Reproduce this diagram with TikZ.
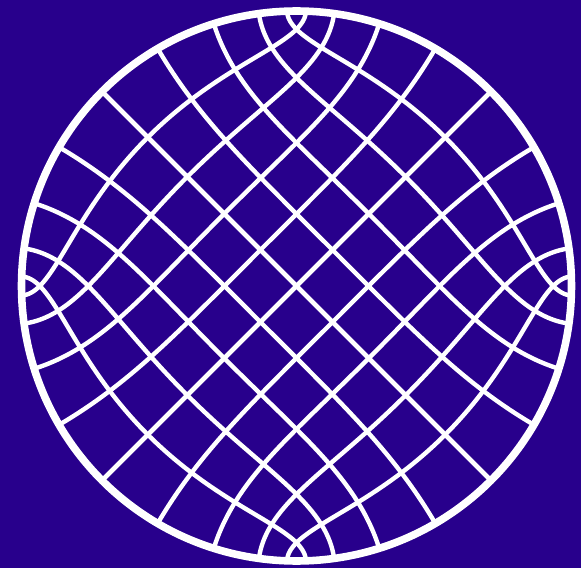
\documentclass[tikz,border=0pt]{standalone}
\definecolor{bgblue}{RGB}{40,0,140}
\def\lmP{1.3110287771461}
% one doubling step for the lemniscatic sine / cosine
\newcommand\lemdbl{%
  \edef\lmpa{(\fpeval{\lmsx*\lmcx-\lmsy*\lmcy})}%
  \edef\lmpb{(\fpeval{\lmsx*\lmcy+\lmsy*\lmcx})}%
  \edef\lmqa{(\fpeval{\lmpa*\lmpa-\lmpb*\lmpb})}%
  \edef\lmqb{(\fpeval{2*\lmpa*\lmpb})}%
  \edef\lmra{(\fpeval{\lmsx*\lmsx-\lmsy*\lmsy})}%
  \edef\lmrb{(\fpeval{2*\lmsx*\lmsy})}%
  \edef\lmta{(\fpeval{\lmcx*\lmcx-\lmcy*\lmcy})}%
  \edef\lmtb{(\fpeval{2*\lmcx*\lmcy})}%
  \edef\lmda{(\fpeval{1-\lmqa})}%
  \edef\lmdb{(\fpeval{-\lmqb})}%
  \edef\lmdn{(\fpeval{\lmda*\lmda+\lmdb*\lmdb})}%
  \edef\lmsx{(\fpeval{2*(\lmpa*\lmda+\lmpb*\lmdb)/\lmdn})}%
  \edef\lmsy{(\fpeval{2*(\lmpb*\lmda-\lmpa*\lmdb)/\lmdn})}%
  \edef\lmea{(\fpeval{1+\lmqa})}%
  \edef\lmen{(\fpeval{\lmea*\lmea+\lmqb*\lmqb})}%
  \edef\lmna{(\fpeval{\lmta-\lmra})}%
  \edef\lmnb{(\fpeval{\lmtb-\lmrb})}%
  \edef\lmcx{(\fpeval{(\lmna*\lmea+\lmnb*\lmqb)/\lmen})}%
  \edef\lmcy{(\fpeval{(\lmnb*\lmea-\lmna*\lmqb)/\lmen})}%
}
% sl(w) for w = #1 + i #2  -> \lmsx, \lmsy
\newcommand\slmap[2]{%
  \edef\lmux{(\fpeval{(#1)/8})}%
  \edef\lmuy{(\fpeval{(#2)/8})}%
  \edef\lmpa{(\fpeval{\lmux*\lmux-\lmuy*\lmuy})}%
  \edef\lmpb{(\fpeval{2*\lmux*\lmuy})}%
  \edef\lmqa{(\fpeval{\lmpa*\lmpa-\lmpb*\lmpb})}%
  \edef\lmqb{(\fpeval{2*\lmpa*\lmpb})}%
  \edef\lmsx{(\fpeval{\lmux-(\lmqa*\lmux-\lmqb*\lmuy)/10})}%
  \edef\lmsy{(\fpeval{\lmuy-(\lmqa*\lmuy+\lmqb*\lmux)/10})}%
  \edef\lmxa{(\fpeval{\lmsx*\lmsx-\lmsy*\lmsy})}%
  \edef\lmxb{(\fpeval{2*\lmsx*\lmsy})}%
  \edef\lmya{(\fpeval{\lmxa*\lmxa-\lmxb*\lmxb})}%
  \edef\lmyb{(\fpeval{2*\lmxa*\lmxb})}%
  \edef\lmza{(\fpeval{\lmya*\lmxa-\lmyb*\lmxb})}%
  \edef\lmzb{(\fpeval{\lmya*\lmxb+\lmyb*\lmxa})}%
  \edef\lmcx{(\fpeval{1-\lmxa+\lmya/2-\lmza/2})}%
  \edef\lmcy{(\fpeval{-\lmxb+\lmyb/2-\lmzb/2})}%
  \lemdbl\lemdbl\lemdbl
}
\begin{document}
\begin{tikzpicture}[x=1cm,y=1cm,
  gridcurve/.style={draw=white,line width=2.5pt,line cap=round,line join=round},
  rim/.style={draw=white,line width=4.3pt}]
\fill[bgblue] (0,0) rectangle (11.62,11.36);
\begin{scope}[shift={(5.93,5.64)},scale=5.5]
\foreach \k in {0,...,4}{%
  \gdef\ptlist{}%
  \foreach \j in {0,...,80}{%
    \edef\lmcc{(\fpeval{\k*\lmP/5})}%
    \edef\lmdd{(\fpeval{-\lmP+2*\lmP*\j/80})}%
    \slmap{(\lmcc+\lmdd)/2}{(\lmcc-\lmdd)/2}%
    \xdef\ptlist{\ptlist(\fpeval{round(\lmsx,5)},\fpeval{round(\lmsy,5)})}%
  }%
  \edef\lmdraw{%
    \noexpand\draw[gridcurve] plot[smooth] coordinates {\ptlist};
    \noexpand\draw[gridcurve,scale=-1] plot[smooth] coordinates {\ptlist};
    \noexpand\draw[gridcurve,yscale=-1] plot[smooth] coordinates {\ptlist};
    \noexpand\draw[gridcurve,xscale=-1] plot[smooth] coordinates {\ptlist};
  }%
  \lmdraw
}
\draw[rim] (0,0) circle (1);
\end{scope}
\end{tikzpicture}
\end{document}
